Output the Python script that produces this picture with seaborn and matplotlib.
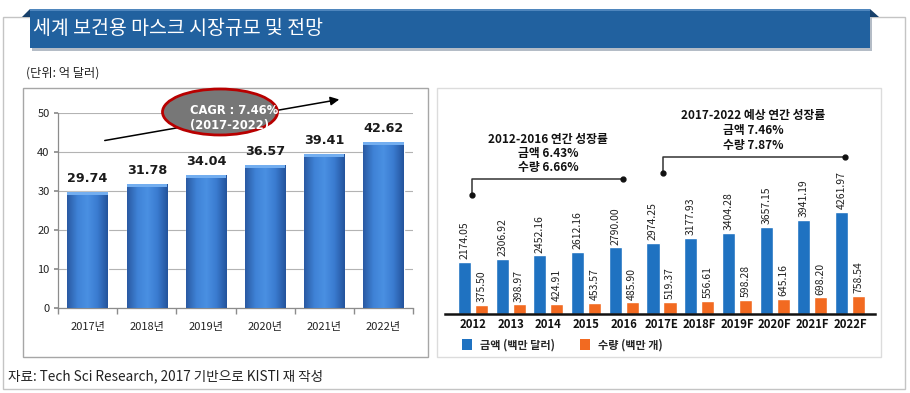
import numpy as np
import pandas as pd
import matplotlib
matplotlib.use("Agg")
import matplotlib.pyplot as plt
import seaborn as sns
from matplotlib.patches import Rectangle, Ellipse, Polygon, Patch
from matplotlib.colors import LinearSegmentedColormap

# ---------------- data ----------------
title = "세계 보건용 마스크 시장규모 및 전망"
unit_label = "(단위: 억 달러)"
source = "자료: Tech Sci Research, 2017 기반으로 KISTI 재 작성"

left_years = ["2017년", "2018년", "2019년", "2020년", "2021년", "2022년"]
left_values = [29.74, 31.78, 34.04, 36.57, 39.41, 42.62]
left_yticks = [0, 10, 20, 30, 40, 50]
cagr_lines = ["CAGR : 7.46%", "(2017-2022)"]

right_years = ["2012", "2013", "2014", "2015", "2016", "2017E",
               "2018F", "2019F", "2020F", "2021F", "2022F"]
value_usd = [2174.05, 2306.92, 2452.16, 2612.16, 2790.00, 2974.25,
             3177.93, 3404.28, 3657.15, 3941.19, 4261.97]
volume = [375.50, 398.97, 424.91, 453.57, 485.90, 519.37,
          556.61, 598.28, 645.16, 698.20, 758.54]
series_names = ["금액 (백만 달러)", "수량 (백만 개)"]
note1 = ["2012-2016 연간 성장률", "금액 6.43%", "수량 6.66%"]
note2 = ["2017-2022 예상 연간 성장률", "금액 7.46%", "수량 7.87%"]

# ---------------- style ----------------
sns.set_theme(style="white")
plt.rcParams["font.family"] = ["Noto Sans CJK KR", "DejaVu Sans"]
plt.rcParams["axes.unicode_minus"] = False

W, H = 910, 393
fig = plt.figure(figsize=(W / 100, H / 100), dpi=100)
fig.patch.set_facecolor("white")


def rect(x0, y0, x1, y1):
    return [x0 / W, 1 - y1 / H, (x1 - x0) / W, (y1 - y0) / H]


# background axes in pixel coords
bg = fig.add_axes([0, 0, 1, 1], zorder=0)
bg.set_xlim(0, W)
bg.set_ylim(H, 0)
bg.axis("off")

bg.add_patch(Rectangle((3, 17), 902, 372, fc="white", ec="#c4c4c4", lw=1.0))
bg.add_patch(Rectangle((32, 12), 840, 39, fc="#b4bcc6", ec="none"))
bg.add_patch(Rectangle((30, 9), 840, 39, fc="#21619f", ec="none"))
bg.add_patch(Rectangle((30, 9), 840, 2, fc="#4f86bd", ec="none"))
bg.add_patch(Polygon([(22, 17), (30, 9), (30, 17)], closed=True, fc="#17406b", ec="none"))
bg.add_patch(Polygon([(870, 9), (879, 17), (870, 17)], closed=True, fc="#17406b", ec="none"))
bg.text(33, 28, title, color="white", fontsize=14, va="center", ha="left")
bg.text(26, 73, unit_label, color="#222222", fontsize=8.8, va="center", ha="left")
bg.add_patch(Rectangle((23, 88), 405, 269, fc="white", ec="#a6a6a6", lw=1.0))
bg.add_patch(Rectangle((437, 88), 444, 269, fc="white", ec="#dcdcdc", lw=1.0))
bg.text(8, 376, source, color="#222222", fontsize=9.8, va="center", ha="left")

# ---------------- left chart ----------------
ax1 = fig.add_axes(rect(58, 113, 413, 308), zorder=2)
ax1.set_facecolor("none")
sns.barplot(x=left_years, y=left_values, color="#3a7bd0", width=0.68,
            saturation=1, ax=ax1, zorder=3)
ax1.set_ylim(0, 50)
ax1.set_xlim(-0.5, len(left_years) - 0.5)
ax1.set_yticks(left_yticks)
ax1.yaxis.grid(True, color="#b3b3b3", lw=0.8)
ax1.set_axisbelow(True)
for s in ["top", "right"]:
    ax1.spines[s].set_visible(False)
for s in ["left", "bottom"]:
    ax1.spines[s].set_color("#8c8c8c")
    ax1.spines[s].set_linewidth(0.9)
ax1.tick_params(axis="y", length=3, color="#8c8c8c", labelsize=8, labelcolor="#222222", pad=3, left=True)
ax1.set_xticks(np.arange(len(left_years)))
ax1.set_xticks(np.arange(len(left_years) + 1) - 0.5, minor=True)
ax1.tick_params(axis="x", which="major", length=0, labelsize=8, labelcolor="#222222", pad=10)
ax1.tick_params(axis="x", which="minor", length=4, color="#8c8c8c", bottom=True)
ax1.set_xlabel("")
ax1.set_ylabel("")

grad_cmap = LinearSegmentedColormap.from_list(
    "bar", ["#2a5aa3", "#3f82d6", "#4a90e2", "#3a7bd0", "#24549c"])
grad = np.linspace(0, 1, 64).reshape(1, -1)
for p in ax1.patches:
    x0, w, h = p.get_x(), p.get_width(), p.get_height()
    im = ax1.imshow(grad, cmap=grad_cmap, aspect="auto",
                    extent=(x0, x0 + w, 0, h), zorder=3.5)
    im.set_clip_path(p)
    ax1.add_patch(Rectangle((x0, h - 0.7), w, 0.7, fc="#73aef0", ec="none", zorder=3.6))
ax1.set_xlim(-0.5, len(left_years) - 0.5)
ax1.set_ylim(0, 50)
ax1.bar_label(ax1.containers[0], labels=[f"{v:.2f}" for v in left_values],
              padding=5, fontsize=9.2, fontweight="bold", color="#1a1a1a",
              family=["DejaVu Sans"])

# ---------------- right chart ----------------
df = pd.DataFrame({
    "year": right_years * 2,
    "series": [series_names[0]] * len(right_years) + [series_names[1]] * len(right_years),
    "value": value_usd + volume,
})
ax2 = fig.add_axes(rect(445, 95, 875, 314), zorder=2)
ax2.set_facecolor("none")
sns.barplot(data=df, x="year", y="value", hue="series",
            palette=["#1f72c1", "#f26a21"], width=0.9, gap=0.23,
            saturation=1, ax=ax2)
ax2.set_ylim(0, 9160)
ax2.set_xlim(-0.74, len(right_years) - 0.34)
for s in ["top", "right", "left"]:
    ax2.spines[s].set_visible(False)
ax2.spines["bottom"].set_color("#111111")
ax2.spines["bottom"].set_linewidth(1.8)
ax2.set_yticks([])
ax2.set_xlabel("")
ax2.set_ylabel("")
ax2.tick_params(axis="x", length=0, pad=3)
for lbl in ax2.get_xticklabels():
    lbl.set_fontweight("bold")
    lbl.set_fontsize(8.2)
    lbl.set_color("#111111")
for c in ax2.containers:
    ax2.bar_label(c, fmt="%.2f", rotation=90, padding=2, fontsize=7.5, color="#222222")
if ax2.get_legend() is not None:
    ax2.get_legend().remove()

handles = [Patch(fc="#1f72c1", ec="none"), Patch(fc="#f26a21", ec="none")]
fig.legend(handles, series_names, loc="center left",
           bbox_to_anchor=(452 / W, 1 - 345 / H), ncol=2, frameon=False,
           handlelength=0.9, handleheight=1.1, handletextpad=0.7,
           columnspacing=2.3, prop={"size": 8, "weight": "bold"})

# ---------------- overlay annotations ----------------
ov = fig.add_axes([0, 0, 1, 1], zorder=5)
ov.set_xlim(0, W)
ov.set_ylim(H, 0)
ov.axis("off")
ov.set_facecolor("none")

ov.annotate("", xy=(342, 99), xytext=(102, 141),
            arrowprops=dict(arrowstyle="-|>", color="black", lw=1.1, mutation_scale=13))
ov.add_patch(Ellipse((220, 112), 115, 46, fc="#777777", ec="#b80000", lw=2.0, zorder=3))
ov.text(190, 110, cagr_lines[0], color="white", fontsize=8.3, fontweight="bold",
        ha="left", va="center", zorder=4, family=["DejaVu Sans"])
ov.text(190, 125, cagr_lines[1], color="white", fontsize=8.3, fontweight="bold",
        ha="left", va="center", zorder=4, family=["DejaVu Sans"])

# bracket 1
ov.plot([472, 472, 623], [195, 179, 179], color="#333333", lw=1.1)
ov.plot([472, 623], [195, 179], "o", color="#111111", ms=3.5)
for i, t in enumerate(note1):
    ov.text(548, 140 + i * 14, t, ha="center", va="center", fontsize=8.5,
            fontweight="bold", color="#111111")
# bracket 2
ov.plot([663, 663, 845], [173, 157, 157], color="#333333", lw=1.1)
ov.plot([663, 845], [173, 157], "o", color="#111111", ms=3.5)
for i, t in enumerate(note2):
    ov.text(753, 116 + i * 14.5, t, ha="center", va="center", fontsize=8.5,
            fontweight="bold", color="#111111")

fig.savefig("out.png", dpi=100)
